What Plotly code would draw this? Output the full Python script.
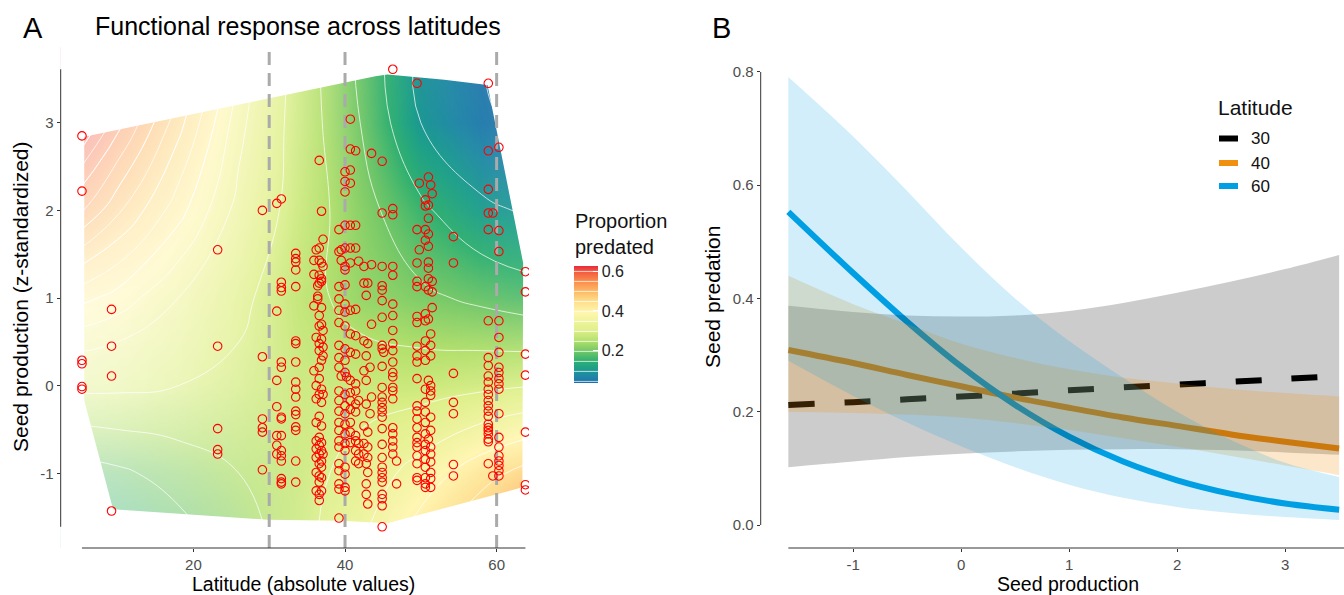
import plotly.graph_objects as go

W, H = 1344, 595
FONT = "Liberation Sans"
TICK_COL = "#4d4d4d"

# ---------------- Panel A: fitted surface ----------------
grid_lat = [2, 10, 18, 26, 34, 42, 50, 58, 66]
grid_seed = [-1.9, -1.0, 0.0, 1.0, 2.0, 3.0, 3.9]
grid_prop = [
    [0.10, 0.13, 0.17, 0.22, 0.28, 0.35, 0.44, 0.52, 0.58],
    [0.17, 0.19, 0.22, 0.25, 0.28, 0.32, 0.37, 0.43, 0.48],
    [0.31, 0.31, 0.30, 0.29, 0.28, 0.28, 0.28, 0.29, 0.30],
    [0.42, 0.39, 0.35, 0.31, 0.27, 0.23, 0.21, 0.19, 0.17],
    [0.56, 0.48, 0.41, 0.34, 0.28, 0.22, 0.16, 0.11, 0.09],
    [0.68, 0.56, 0.46, 0.36, 0.28, 0.20, 0.10, 0.055, 0.04],
    [0.75, 0.62, 0.50, 0.38, 0.28, 0.19, 0.09, 0.05, 0.035],
]
# how washed-out the surface looks (0 = full colour, 1 = strongest fade)
grid_fade = [
    [0.90, 0.80, 0.65, 0.45, 0.25, 0.15, 0.15, 0.20, 0.30],
    [0.85, 0.75, 0.60, 0.40, 0.15, 0.05, 0.05, 0.10, 0.20],
    [0.80, 0.70, 0.55, 0.35, 0.10, 0.00, 0.00, 0.05, 0.15],
    [0.80, 0.70, 0.55, 0.35, 0.05, 0.00, 0.00, 0.05, 0.15],
    [0.85, 0.75, 0.60, 0.40, 0.10, 0.00, 0.00, 0.05, 0.15],
    [0.95, 0.80, 0.65, 0.45, 0.20, 0.05, 0.00, 0.05, 0.20],
    [1.00, 0.85, 0.70, 0.50, 0.25, 0.10, 0.05, 0.10, 0.25],
]

# convex hull of the observations (surface is only shown inside)
hull_lat = [5.6, 5.6, 9.4, 29.8, 39.5, 45.6, 49.1, 63.4, 63.5, 60.0, 58.8, 53.1, 45.6, 44.0, 5.6]
hull_seed = [2.84, -0.17, -1.41, -1.53, -1.54, -1.57, -1.49, -1.16, 1.40, 2.88, 3.43, 3.49, 3.55, 3.53, 2.84]

# observations, grouped by latitude column
col_lat = [5.3, 9.2, 23.2, 29.1, 31.0, 31.6, 33.5, 35.9, 36.2, 36.4, 36.6, 36.9, 37.1,
           39.2, 39.5, 40.0, 40.2, 40.7, 41.4, 41.8, 42.5, 42.8, 43.0, 43.3, 43.5,
           44.9, 45.1, 46.3, 46.8, 49.5, 49.8, 50.6, 51.0, 51.3, 51.5, 54.3,
           58.9, 59.5, 60.3, 63.8]
col_seed = [
    [2.85, 2.22, 0.29, 0.25, -0.01, -0.04],
    [0.87, 0.45, 0.11, -1.43],
    [1.55, 0.45, -0.49, -0.73, -0.78],
    [2.0, 0.33, -0.38, -0.48, -0.53, -0.96],
    [2.08, 0.85, 0.06, -0.24, -0.57, -0.68, -0.78],
    [2.13, 1.18, 1.12, 1.08, 0.27, 0.21, -0.36, -0.38, -0.57, -0.74, -0.80, -0.86, -1.06, -1.10, -1.12],
    [1.51, 1.45, 1.41, 1.32, 1.13, 0.51, 0.48, 0.27, 0.04, -0.04, -0.13, -0.29, -0.33, -0.47, -0.51, -0.86, -1.10],
    [1.43, 1.27, 0.91, 0.17],
    [1.55, 0.55, 0.0, -0.15, -0.42, -0.63, -0.72, -0.82, -0.99, -1.20],
    [1.14, 1.02, 0.99],
    [2.57, 1.57, 1.43, 1.26, 1.17, 0.80, 0.68, 0.48, 0.40, 0.21, 0.08, -0.10, -0.35, -0.59, -0.68,
     -0.78, -0.89, -1.03, -1.10, -1.24, -1.31],
    [1.99, 1.40, 1.22, 1.19, 0.89, 0.70, 0.53, 0.29, -0.04, -0.19, -0.46, -0.65, -0.74, -0.86, -0.93,
     -1.05, -1.20],
    [1.67, 1.36, 0.63, 0.44, 0.34, -0.10, -0.78],
    [1.78, 1.53, 1.13, 0.99, 0.86, 0.72, 0.46, 0.32, 0.21, -0.06, -0.17, -0.29, -0.42, -0.51, -0.63,
     -0.70, -0.89, -0.97, -1.12, -1.18, -1.51],
    [1.43, 1.55, 0.11],
    [2.44, 2.33, 2.21, 1.83, 1.57, 1.36, 1.32, 1.15, 0.93, 0.84, 0.68, 0.42, 0.29, 0.15, -0.10, -0.23,
     -0.32, -0.44, -0.55, -0.66, -0.74, -0.93, -1.01, -1.16, -1.20],
    [0.10],
    [3.04, 2.46, 2.31, 2.70, 1.83, 1.57, 1.40, 0.86, 0.59, 0.38, 0.06, -0.08, -0.17, -0.27, -0.42,
     -0.53, -0.65],
    [2.68, 1.83, 1.57, 0.87, 0.57, 0.36, 0.02, -0.06, -0.21, -0.30, -0.57, -0.63, -0.74, -0.86],
    [1.42, -0.17, -0.66, -0.78, -0.89],
    [1.36, 1.17, 0.51, 0.17, -0.46, -0.66, -0.78],
    [1.03, 0.34, 0.06, -0.21, -0.89, -1.12, -1.24],
    [1.17, 0.48, -0.53, -0.70, -0.82, -0.99, -1.35],
    [0.21, -0.32],
    [2.65, 1.38, 0.70, -0.13],
    [2.56, 1.97, 1.36, 1.14, 1.09, 0.97, 0.78, 0.46, 0.42, 0.22, -0.02, -0.13, -0.19, -0.25, -0.30,
     -0.36, -0.49, -0.67, -0.82, -0.93, -0.99, -1.05, -1.10, -1.24, -1.29, -1.37, -1.61],
    [0.38],
    [3.61, 2.02, 1.95, 1.36, 1.26, 0.93, 0.80, 0.63, 0.48, 0.40, 0.27, 0.15, 0.10, -0.02, -0.06,
     -0.15, -0.48, -0.55, -0.63, -0.70, -0.78],
    [-0.86, -1.12],
    [3.45, 1.78, 1.40, 1.19, 1.13, 0.79, 0.72, 0.45, 0.34, 0.27, 0.08, -0.23, -0.29, -0.38, -0.48,
     -0.59, -0.65, -0.70, -0.80, -0.89, -1.05, -1.08],
    [2.31, 1.55],
    [2.12, 2.05, 1.78, 1.66, 1.13, 0.82, 0.74, 0.51, 0.40, 0.29, -0.04, -0.19, -0.30, -0.42, -0.55,
     -0.67, -0.74, -0.84, -0.93, -1.05, -1.12, -1.16],
    [2.38, 2.06, 1.91, 1.73, 1.59, 1.41, 1.34, 1.22, 1.09, 0.76, 0.06, -0.61],
    [2.29, 0.59, 0.46, 0.34, 0.0, -0.06, -0.11, -0.36, -0.51, -0.70, -0.78, -0.87, -0.99, -1.06, -1.16],
    [2.19, 1.19, 1.07, 0.89],
    [1.70, 1.40, 0.14, -0.19, -0.32, -0.90, -1.03],
    [3.45, 2.68, 2.24, 1.97, 1.78, 0.74, 0.32, 0.23, 0.11, 0.04, -0.04, -0.10, -0.17, -0.23, -0.29,
     -0.35, -0.44, -0.48, -0.51, -0.55, -0.61, -0.64, -0.89],
    [1.97, -1.03],
    [2.72, 1.77, 1.53, 0.74, 0.55, 0.38, 0.21, 0.15, 0.08, 0.02, -0.04, -0.32, -0.59, -0.70, -0.80,
     -0.86, -0.91, -0.97, -1.03],
    [1.30, 1.07, 0.36, 0.12, -0.53, -1.13, -1.19],
]
ref_lats = [30, 40, 60]

# ---------------- Panel B: predictions by latitude ----------------
seed_x = [-1.6, -1.0, -0.5, 0.0, 0.5, 1.0, 1.5, 2.0, 2.5, 3.0, 3.5]
pred_30 = [0.212, 0.217, 0.222, 0.227, 0.232, 0.238, 0.243, 0.248, 0.253, 0.258, 0.263]
lo_30 = [0.102, 0.112, 0.120, 0.126, 0.130, 0.133, 0.134, 0.134, 0.132, 0.128, 0.124]
hi_30 = [0.387, 0.376, 0.370, 0.368, 0.370, 0.378, 0.392, 0.410, 0.430, 0.452, 0.477]
pred_40 = [0.309, 0.286, 0.265, 0.245, 0.225, 0.207, 0.190, 0.175, 0.160, 0.147, 0.135]
lo_40 = [0.200, 0.198, 0.195, 0.190, 0.180, 0.168, 0.153, 0.138, 0.122, 0.105, 0.088]
hi_40 = [0.440, 0.390, 0.355, 0.320, 0.295, 0.275, 0.260, 0.250, 0.240, 0.233, 0.227]
pred_60 = [0.553, 0.445, 0.359, 0.280, 0.212, 0.156, 0.112, 0.079, 0.055, 0.038, 0.027]
lo_60 = [0.290, 0.228, 0.181, 0.139, 0.102, 0.071, 0.048, 0.032, 0.021, 0.014, 0.009]
hi_60 = [0.791, 0.686, 0.590, 0.490, 0.400, 0.325, 0.260, 0.200, 0.150, 0.110, 0.085]

lat_colors = ["#000000", "#F0900F", "#009FE3"]
ribbon_colors = ["rgba(0,0,0,0.2)", "rgba(240,144,15,0.22)", "rgba(0,159,227,0.18)"]

# ---------------- layout geometry (pixels) ----------------
def px_x(p):
    return p / W

def px_y(p):
    return 1 - p / H

A_dom_x = [px_x(60.7), px_x(529)]
A_dom_y = [px_y(548), px_y(47)]
A_xr = [2.494, 64.27]
A_yr = [-1.852, 3.864]
B_dom_x = [px_x(760.7), 1.0]
B_dom_y = [px_y(548), px_y(55)]
B_xr = [-1.856, 3.545]
B_yr = [-0.0406, 0.830]

spectral = [
    [0.00, "#1f6fae"], [0.06, "#1f88a6"], [0.12, "#1c9e8c"], [0.19, "#30b070"],
    [0.27, "#72c767"], [0.36, "#b3e06c"], [0.45, "#dff08a"], [0.60, "#fff6ae"],
    [0.70, "#fede8a"], [0.78, "#fdbb66"], [0.87, "#fb8c4c"], [0.95, "#f25a3f"],
    [1.00, "#e82a3b"],
]
CONTOUR_LINE = dict(color="rgba(255,255,255,0.9)", width=0.8, smoothing=1.3)

fig = go.Figure()

# surface with contours
fig.add_trace(go.Contour(
    x=grid_lat, y=grid_seed, z=grid_prop,
    colorscale=spectral, zmin=0.04, zmax=0.627,
    autocontour=False,
    contours=dict(coloring="heatmap", start=0.05, end=0.60, size=0.05, showlines=True),
    line=CONTOUR_LINE,
    hoverinfo="skip",
    colorbar=dict(
        x=px_x(574), xanchor="left", y=px_y(324.2), yanchor="middle",
        len=117 / H, lenmode="fraction", thickness=24, thicknessmode="pixels",
        outlinewidth=0, xpad=0, ypad=0,
        tickvals=[0.2, 0.4, 0.6], ticktext=["0.2", "0.4", "0.6"],
        ticks="inside", ticklen=5, tickcolor="white",
        tickfont=dict(family=FONT, size=16, color="#222222"),
    ),
    xaxis="x", yaxis="y",
))
# denser contour lines in the high-predation (upper-left) part of the surface
fig.add_trace(go.Contour(
    x=grid_lat[:5], y=grid_seed[2:], z=[row[:5] for row in grid_prop[2:]],
    autocontour=False, showscale=False,
    contours=dict(coloring="none", start=0.375, end=0.625, size=0.025, showlines=True),
    line=CONTOUR_LINE, hoverinfo="skip", xaxis="x", yaxis="y",
))

# wash-out overlay (a contour trace so it stacks above the surface)
fig.add_trace(go.Contour(
    x=grid_lat, y=grid_seed, z=grid_fade, zmin=0, zmax=1,
    colorscale=[[0, "rgba(255,255,255,0)"], [1, "rgba(255,255,255,0.75)"]],
    contours=dict(coloring="heatmap", showlines=False, start=0, end=1, size=0.05),
    autocontour=False, line=dict(width=0),
    showscale=False, hoverinfo="skip", xaxis="x", yaxis="y",
))

# white mask outside the hull (outer box clockwise, hull counter-clockwise)
mask_x = [0, 0, 70, 70, 0, 0] + hull_lat + [0]
mask_y = [hull_seed[0], 6, 6, -3, -3, hull_seed[0]] + hull_seed + [hull_seed[0]]
fig.add_trace(go.Scatter(
    x=mask_x, y=mask_y, mode="lines", fill="toself", fillcolor="white",
    line=dict(width=0, color="white"), hoverinfo="skip", xaxis="x", yaxis="y",
))

# reference latitudes (dashed)
dx, dy = [], []
for la in ref_lats:
    dx += [la, la, None]
    dy += [A_yr[0], A_yr[1], None]
fig.add_trace(go.Scatter(
    x=dx, y=dy, mode="lines", line=dict(color="#aaaaaa", width=3, dash="13px,8px"),
    hoverinfo="skip", xaxis="x", yaxis="y",
))

# observations
pt_lat, pt_seed = [], []
for la, ss in zip(col_lat, col_seed):
    pt_lat += [la] * len(ss)
    pt_seed += ss
fig.add_trace(go.Scatter(
    x=pt_lat, y=pt_seed, mode="markers",
    marker=dict(symbol="circle-open", size=8.5, color="#ff0000", line=dict(width=1.1, color="#ff0000")),
    xaxis="x", yaxis="y",
))

# ---------------- Panel B traces ----------------
preds = [pred_30, pred_40, pred_60]
los = [lo_30, lo_40, lo_60]
his = [hi_30, hi_40, hi_60]
dashes = ["26px,30px", "solid", "solid"]
for p, c, d in zip(preds, lat_colors, dashes):
    fig.add_trace(go.Scatter(
        x=seed_x, y=p, mode="lines",
        line=dict(color=c, width=6, dash=d, shape="spline"),
        xaxis="x2", yaxis="y2",
    ))
for lo, hi, rc in zip(los, his, ribbon_colors):
    fig.add_trace(go.Scatter(
        x=seed_x, y=lo, mode="lines", line=dict(width=0, shape="spline"),
        hoverinfo="skip", xaxis="x2", yaxis="y2",
    ))
    fig.add_trace(go.Scatter(
        x=seed_x, y=hi, mode="lines", line=dict(width=0, shape="spline"),
        fill="tonexty", fillcolor=rc, hoverinfo="skip", xaxis="x2", yaxis="y2",
    ))

# ---------------- axes ----------------
ax_common = dict(showgrid=False, zeroline=False, showline=False, ticks="outside",
                 ticklen=3, tickwidth=1, tickcolor="#333333",
                 tickfont=dict(family=FONT, size=15, color=TICK_COL))
a_xticks = [20, 40, 60]
a_yticks = [-1, 0, 1, 2, 3]
b_xticks = [-1, 0, 1, 2, 3]
b_yticks = [0.0, 0.2, 0.4, 0.6, 0.8]

fig.update_layout(
    width=W, height=H, margin=dict(l=0, r=0, t=0, b=0),
    paper_bgcolor="white", plot_bgcolor="white", showlegend=False,
    font=dict(family=FONT),
    xaxis=dict(domain=A_dom_x, range=A_xr, tickvals=a_xticks,
               ticktext=[str(v) for v in a_xticks], anchor="y", **ax_common),
    yaxis=dict(domain=A_dom_y, range=A_yr, tickvals=a_yticks,
               ticktext=[str(v) for v in a_yticks], anchor="x", **ax_common),
    xaxis2=dict(domain=B_dom_x, range=B_xr, tickvals=b_xticks,
                ticktext=[str(v) for v in b_xticks], anchor="y2", **ax_common),
    yaxis2=dict(domain=B_dom_y, range=B_yr, tickvals=b_yticks,
                ticktext=["%.1f" % v for v in b_yticks], anchor="x2", **ax_common),
)

# detached axis lines (ggplot-style), spanning the data range
line_style = dict(color="#333333", width=1)
shapes = [
    dict(type="line", xref="paper", yref="y", x0=A_dom_x[0], x1=A_dom_x[0],
         y0=min(pt_seed), y1=max(pt_seed), line=line_style),
    dict(type="line", xref="x", yref="paper", x0=min(pt_lat), x1=max(pt_lat),
         y0=A_dom_y[0], y1=A_dom_y[0], line=line_style),
    dict(type="line", xref="paper", yref="y2", x0=B_dom_x[0], x1=B_dom_x[0],
         y0=b_yticks[0], y1=b_yticks[-1], line=line_style),
    dict(type="line", xref="x2", yref="paper", x0=seed_x[0], x1=B_xr[1],
         y0=B_dom_y[0], y1=B_dom_y[0], line=line_style),
]

# legend for panel B
annotations = []
key_y = [138.5, 163, 186]
for la, c, ky in zip(ref_lats, lat_colors, key_y):
    shapes.append(dict(type="rect", xref="paper", yref="paper",
                       x0=px_x(1219), x1=px_x(1238), y0=px_y(ky + 3), y1=px_y(ky - 3),
                       fillcolor=c, line=dict(width=0)))
    annotations.append(dict(text=str(la), xref="paper", yref="paper", x=px_x(1249), y=px_y(ky),
                            xanchor="left", yanchor="middle", showarrow=False,
                            font=dict(family=FONT, size=17, color="#111111")))
annotations.append(dict(text="Latitude", xref="paper", yref="paper", x=px_x(1216), y=px_y(107),
                        xanchor="left", yanchor="middle", showarrow=False,
                        font=dict(family=FONT, size=21, color="#111111")))
# colour bar title
annotations.append(dict(text="Proportion<br>predated", xref="paper", yref="paper",
                        x=px_x(573), y=px_y(234), xanchor="left", yanchor="middle",
                        align="left", showarrow=False,
                        font=dict(family=FONT, size=20, color="#111111")))

def ann(text, x, y, size, angle=0, color="#000000"):
    return dict(text=text, xref="paper", yref="paper", x=px_x(x), y=px_y(y),
                xanchor="center", yanchor="middle", showarrow=False, textangle=angle,
                font=dict(family=FONT, size=size, color=color))

annotations += [
    ann("A", 33, 28, 29),
    ann("B", 721, 28, 29),
    ann("Functional response across latitudes", 298, 26, 25),
    ann("Latitude (absolute values)", 303, 583.5, 19.5),
    ann("Seed production (z-standardized)", 20, 297, 21, angle=-90),
    ann("Seed production", 1068, 583.5, 19.5),
    ann("Seed predation", 712, 297, 21, angle=-90),
]

fig.update_layout(shapes=shapes, annotations=annotations)
fig.write_html(
    "out.html",
    config={"displayModeBar": False},
    post_script="document.body.style.margin='0';document.body.style.padding='0';"
                "document.body.style.overflow='hidden';",
)
